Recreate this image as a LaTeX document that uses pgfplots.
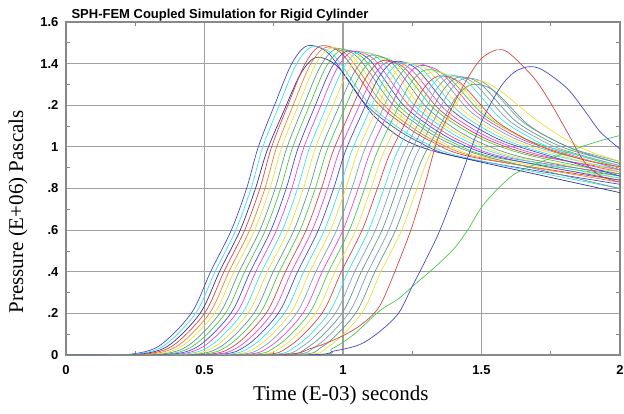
\documentclass[border=0pt]{standalone}
\usepackage{fontspec}
\setmainfont{Liberation Serif}
\setsansfont{Liberation Sans}
\usepackage{pgfplots}
\pgfplotsset{compat=1.18}
\definecolor{gridgray}{HTML}{A0A0A0}
\definecolor{axgray}{HTML}{888888}
\definecolor{cR}{HTML}{D04848}
\definecolor{cG}{HTML}{48C848}
\definecolor{cB}{HTML}{4848D0}
\definecolor{cN}{HTML}{3030A0}
\definecolor{cY}{HTML}{E8E040}
\definecolor{cM}{HTML}{E048E0}
\definecolor{cC}{HTML}{40E0E8}
\definecolor{cT}{HTML}{609888}
\definecolor{cS}{HTML}{80A0B0}
\definecolor{cO}{HTML}{F08030}

\begin{document}
\begin{tikzpicture}
\begin{axis}[
  scale only axis,
  width=554pt, height=333pt,
  xmin=0, xmax=2, ymin=0, ymax=1.6,
  xtick={0,0.5,1,1.5,2},
  xticklabels={0,0.5,1,1.5,2},
  ytick={0,0.2,0.4,0.6,0.8,1,1.2,1.4,1.6},
  yticklabels={0,.2,.4,.6,.8,1,.2,1.4,1.6},
  minor x tick num=1, minor y tick num=1,
  grid=major,
  major grid style={draw=gridgray, line width=1.1pt},
  axis line style={draw=axgray, line width=1.1pt},
  tick align=inside, major tick length=0pt, minor tick length=4pt,
  minor tick style={draw=axgray, line width=0.8pt},
  tick label style={font=\sffamily\bfseries\fontsize{13}{13}\selectfont},
  yticklabel style={xshift=-4pt},
  xticklabel style={yshift=-7pt},
  title={SPH-FEM Coupled Simulation for Rigid Cylinder},
  title style={at={(0,1)}, anchor=base west, xshift=2pt, yshift=-3pt,
    font=\sffamily\bfseries\fontsize{13}{13}\selectfont},
  xlabel={Time (E-03) seconds},
  ylabel={Pressure (E+06) Pascals},
  xlabel style={at={(axis description cs:0.496,-0.12)}, anchor=center,
    font=\fontsize{21}{21}\selectfont},
  ylabel style={at={(axis description cs:-0.0866,0.43)}, anchor=center,
    font=\fontsize{21}{21}\selectfont},
  every axis plot/.append style={line width=0.7pt, no markers, smooth},
]
% main family of gauges, earliest first
\addplot[cB] coordinates {(0,0)(0.202,0)(0.332,0.04)(0.452,0.2)(0.522,0.4)(0.597,0.6)(0.652,0.8)(0.694,0.999)(0.752,1.198)(0.815,1.4)(0.872,1.486)(0.952,1.443)(1.072,1.218)(1.172,1.105)(1.272,1.025)(1.422,0.95)(2,0.82)};
\addplot[cC] coordinates {(0,0)(0.218,0)(0.348,0.04)(0.468,0.2)(0.538,0.4)(0.613,0.6)(0.668,0.8)(0.710,0.997)(0.768,1.194)(0.831,1.395)(0.888,1.48)(0.968,1.438)(1.088,1.215)(1.188,1.104)(1.288,1.024)(1.438,0.95)(2,0.80)};
\addplot[cN] coordinates {(0,0)(0.234,0)(0.364,0.04)(0.484,0.2)(0.554,0.4)(0.629,0.6)(0.684,0.8)(0.726,0.983)(0.784,1.165)(0.847,1.351)(0.904,1.43)(0.984,1.381)(1.104,1.16)(1.204,1.048)(1.304,0.989)(1.454,0.94)(2,0.78)};
\addplot[cR] coordinates {(0,0)(0.25,0)(0.38,0.04)(0.5,0.2)(0.57,0.4)(0.645,0.6)(0.7,0.8)(0.742,0.999)(0.8,1.197)(0.863,1.399)(0.92,1.485)(1.0,1.442)(1.12,1.217)(1.22,1.105)(1.32,1.025)(1.47,0.95)(2,0.84)};
\addplot[cO] coordinates {(0,0)(0.268,0)(0.398,0.04)(0.518,0.2)(0.588,0.4)(0.663,0.6)(0.718,0.8)(0.760,0.997)(0.818,1.193)(0.881,1.393)(0.938,1.478)(1.018,1.436)(1.138,1.214)(1.238,1.103)(1.338,1.024)(1.488,0.95)(2,0.83)};
\addplot[cY] coordinates {(0,0)(0.286,0)(0.416,0.04)(0.536,0.2)(0.606,0.4)(0.681,0.6)(0.736,0.8)(0.778,0.996)(0.836,1.192)(0.899,1.391)(0.956,1.475)(1.036,1.433)(1.156,1.212)(1.256,1.102)(1.356,1.023)(1.506,0.95)(2,0.85)};
\addplot[cT] coordinates {(0,0)(0.305,0)(0.435,0.04)(0.555,0.2)(0.625,0.4)(0.70,0.6)(0.755,0.8)(0.797,0.994)(0.855,1.189)(0.918,1.386)(0.975,1.47)(1.055,1.428)(1.175,1.21)(1.275,1.101)(1.375,1.023)(1.525,0.95)(2,0.80)};
\addplot[cG] coordinates {(0,0)(0.325,0)(0.455,0.04)(0.575,0.2)(0.645,0.4)(0.72,0.6)(0.775,0.8)(0.817,0.993)(0.875,1.186)(0.938,1.382)(0.995,1.465)(1.075,1.424)(1.195,1.207)(1.295,1.099)(1.395,1.022)(1.545,0.95)(2,0.86)};
\addplot[cB] coordinates {(0,0)(0.345,0)(0.475,0.04)(0.595,0.2)(0.665,0.4)(0.74,0.6)(0.795,0.8)(0.837,0.991)(0.895,1.183)(0.958,1.378)(1.015,1.46)(1.095,1.419)(1.215,1.205)(1.315,1.098)(1.415,1.021)(1.565,0.95)(2,0.84)};
\addplot[cM] coordinates {(0,0)(0.365,0)(0.495,0.04)(0.615,0.2)(0.685,0.4)(0.76,0.6)(0.815,0.8)(0.857,0.991)(0.915,1.182)(0.978,1.376)(1.035,1.458)(1.115,1.417)(1.235,1.204)(1.335,1.097)(1.435,1.021)(1.585,0.95)(2,0.87)};
\addplot[cC] coordinates {(0,0)(0.386,0)(0.516,0.04)(0.636,0.2)(0.706,0.4)(0.781,0.6)(0.836,0.8)(0.878,0.99)(0.936,1.18)(0.999,1.373)(1.056,1.455)(1.136,1.415)(1.256,1.202)(1.356,1.096)(1.456,1.021)(1.606,0.95)(2,0.85)};
\addplot[cY] coordinates {(0,0)(0.407,0)(0.537,0.04)(0.657,0.2)(0.727,0.4)(0.802,0.6)(0.857,0.8)(0.899,0.989)(0.957,1.177)(1.020,1.369)(1.077,1.45)(1.157,1.41)(1.277,1.2)(1.377,1.095)(1.477,1.02)(1.627,0.95)(2,0.88)};
\addplot[cT] coordinates {(0,0)(0.428,0)(0.558,0.04)(0.678,0.2)(0.748,0.4)(0.823,0.6)(0.878,0.8)(0.920,0.986)(0.978,1.171)(1.041,1.36)(1.098,1.44)(1.178,1.401)(1.298,1.195)(1.398,1.092)(1.498,1.019)(1.648,0.95)(2,0.86)};
\addplot[cG] coordinates {(0,0)(0.45,0)(0.58,0.04)(0.70,0.2)(0.77,0.4)(0.845,0.6)(0.90,0.8)(0.942,0.983)(1.0,1.165)(1.063,1.351)(1.12,1.43)(1.20,1.392)(1.32,1.195)(1.42,1.096)(1.52,1.026)(1.67,0.96)(2,0.87)};
\addplot[cR] coordinates {(0,0)(0.472,0)(0.602,0.04)(0.722,0.2)(0.792,0.4)(0.867,0.6)(0.922,0.8)(0.964,0.978)(1.022,1.157)(1.085,1.338)(1.142,1.415)(1.222,1.379)(1.342,1.187)(1.442,1.092)(1.542,1.024)(1.692,0.96)(2,0.89)};
\addplot[cM] coordinates {(0,0)(0.494,0)(0.624,0.04)(0.744,0.2)(0.814,0.4)(0.889,0.6)(0.944,0.8)(0.986,0.977)(1.044,1.154)(1.107,1.334)(1.164,1.41)(1.244,1.374)(1.364,1.185)(1.464,1.09)(1.564,1.023)(1.714,0.96)(2,0.88)};
\addplot[cB] coordinates {(0,0)(0.516,0)(0.646,0.04)(0.766,0.2)(0.836,0.4)(0.911,0.6)(0.966,0.8)(1.008,0.977)(1.066,1.154)(1.129,1.334)(1.186,1.41)(1.266,1.374)(1.386,1.185)(1.486,1.09)(1.586,1.023)(1.736,0.96)(2,0.86)};
\addplot[cC] coordinates {(0,0)(0.538,0)(0.668,0.04)(0.788,0.2)(0.858,0.4)(0.933,0.6)(0.988,0.8)(1.030,0.975)(1.088,1.151)(1.151,1.329)(1.208,1.405)(1.288,1.369)(1.408,1.182)(1.508,1.089)(1.608,1.022)(1.758,0.96)(2,0.89)};
\addplot[cY] coordinates {(0,0)(0.56,0)(0.69,0.04)(0.81,0.2)(0.88,0.4)(0.955,0.6)(1.01,0.8)(1.052,0.974)(1.11,1.148)(1.173,1.325)(1.23,1.40)(1.31,1.365)(1.43,1.18)(1.53,1.088)(1.63,1.022)(1.78,0.96)(2,0.88)};
\addplot[cS] coordinates {(0,0)(0.582,0)(0.712,0.04)(0.832,0.2)(0.902,0.4)(0.977,0.6)(1.032,0.8)(1.074,0.974)(1.132,1.148)(1.195,1.325)(1.252,1.40)(1.332,1.365)(1.452,1.18)(1.552,1.088)(1.652,1.022)(1.802,0.96)(2,0.90)};
\addplot[cM] coordinates {(0,0)(0.605,0)(0.735,0.04)(0.855,0.2)(0.925,0.4)(1.0,0.6)(1.055,0.8)(1.097,0.971)(1.155,1.142)(1.218,1.316)(1.275,1.39)(1.355,1.356)(1.475,1.175)(1.575,1.085)(1.675,1.02)(1.825,0.96)(2,0.89)};
\addplot[cG] coordinates {(0,0)(0.628,0)(0.758,0.04)(0.878,0.2)(0.948,0.4)(1.023,0.6)(1.078,0.8)(1.12,0.965)(1.178,1.131)(1.241,1.299)(1.298,1.37)(1.378,1.337)(1.498,1.165)(1.598,1.079)(1.698,1.017)(1.848,0.96)(2,0.90)};
\addplot[cY] coordinates {(0,0)(0.651,0)(0.781,0.04)(0.901,0.2)(0.971,0.4)(1.046,0.6)(1.101,0.8)(1.143,0.962)(1.201,1.125)(1.264,1.29)(1.321,1.36)(1.401,1.326)(1.521,1.15)(1.621,1.062)(1.721,0.999)(1.871,0.94)(2,0.90)};
\addplot[cR] coordinates {(0,0)(0.674,0)(0.804,0.04)(0.924,0.2)(0.994,0.4)(1.069,0.6)(1.124,0.8)(1.166,0.957)(1.224,1.113)(1.287,1.273)(1.344,1.34)(1.424,1.307)(1.544,1.135)(1.644,1.049)(1.744,0.987)(1.894,0.93)(2,0.905)};
\addplot[cC] coordinates {(0,0)(0.698,0)(0.828,0.04)(0.948,0.2)(1.018,0.4)(1.093,0.6)(1.148,0.8)(1.19,0.958)(1.248,1.116)(1.311,1.277)(1.368,1.345)(1.448,1.312)(1.568,1.137)(1.668,1.05)(1.768,0.988)(2,0.91)};
\addplot[cS] coordinates {(0,0)(0.722,0)(0.852,0.04)(0.972,0.2)(1.042,0.4)(1.117,0.6)(1.172,0.8)(1.214,0.957)(1.272,1.113)(1.335,1.273)(1.392,1.34)(1.472,1.307)(1.592,1.135)(1.692,1.049)(1.792,0.987)(2,0.91)};
\addplot[cT] coordinates {(0,0)(0.746,0)(0.876,0.04)(0.996,0.2)(1.066,0.4)(1.141,0.6)(1.196,0.8)(1.238,0.955)(1.296,1.11)(1.359,1.268)(1.416,1.335)(1.496,1.303)(1.616,1.132)(1.716,1.047)(1.816,0.987)(2,0.92)};
\addplot[cS] coordinates {(0,0)(0.77,0)(0.90,0.04)(1.02,0.2)(1.09,0.4)(1.165,0.6)(1.22,0.8)(1.262,0.954)(1.32,1.107)(1.383,1.264)(1.44,1.33)(1.52,1.298)(1.64,1.13)(1.74,1.046)(1.84,0.986)(2,0.93)};
\addplot[cT] coordinates {(0,0)(0.795,0)(0.925,0.04)(1.045,0.2)(1.115,0.4)(1.19,0.6)(1.245,0.8)(1.287,0.945)(1.345,1.09)(1.408,1.238)(1.465,1.30)(1.545,1.27)(1.665,1.11)(1.765,1.03)(1.865,0.973)(2,0.92)};
\addplot[cY] coordinates {(0,0)(0.817,0)(0.947,0.04)(1.067,0.2)(1.137,0.4)(1.212,0.6)(1.267,0.8)(1.309,0.951)(1.367,1.102)(1.43,1.255)(1.487,1.32)(1.567,1.27)(1.687,1.14)(1.787,1.05)(1.887,0.98)(2,0.93)};
% late gauges
\addplot[cR] coordinates {(0,0)(0.75,0)(0.88,0.03)(0.98,0.08)(1.06,0.14)(1.13,0.23)(1.19,0.41)(1.25,0.62)(1.30,0.84)(1.34,1.03)(1.39,1.18)(1.45,1.33)(1.50,1.425)(1.555,1.466)(1.60,1.45)(1.69,1.33)(1.75,1.21)(1.81,1.07)(1.87,0.93)(1.93,0.86)(2,0.83)};
\addplot[cG] coordinates {(0,0)(0.88,0)(0.96,0.03)(1.04,0.1)(1.13,0.21)(1.2,0.27)(1.26,0.34)(1.33,0.42)(1.4,0.51)(1.45,0.6)(1.5,0.71)(1.56,0.8)(1.62,0.87)(1.7,0.92)(1.8,0.97)(1.86,1.0)(1.93,1.03)(2,1.055)};
\addplot[cB] coordinates {(0,0)(0.85,0)(0.97,0.02)(1.06,0.05)(1.13,0.11)(1.2,0.2)(1.25,0.33)(1.3,0.46)(1.35,0.6)(1.42,0.84)(1.5,1.12)(1.57,1.29)(1.62,1.36)(1.67,1.385)(1.72,1.37)(1.81,1.28)(1.88,1.16)(1.93,1.07)(2,0.99)};
\end{axis}
\pgfresetboundingbox
\path[use as bounding box] (-66pt,-59pt) rectangle (558pt,355pt);
\end{tikzpicture}
\end{document}
